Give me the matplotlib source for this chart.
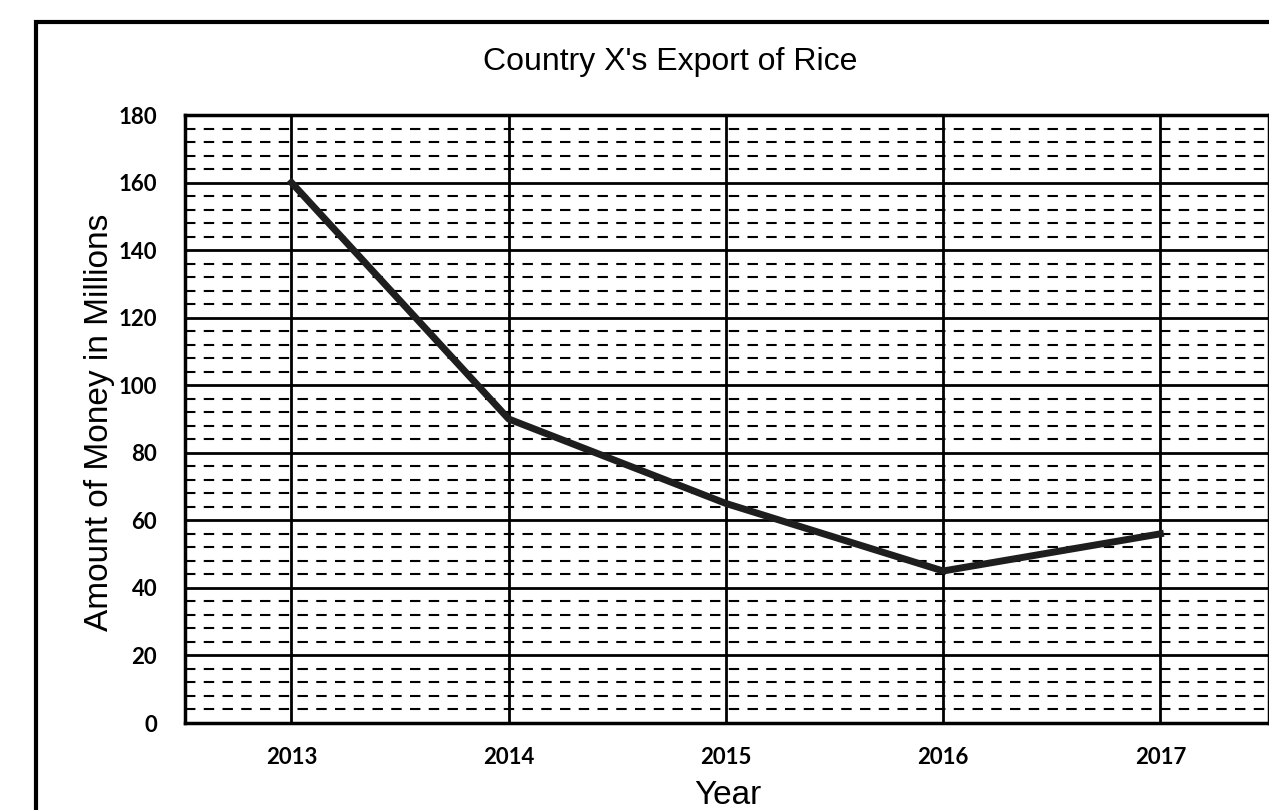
import numpy as np
import pandas as pd
import matplotlib
matplotlib.use('Agg')
import matplotlib.pyplot as plt
from matplotlib.patches import Rectangle

# veriler
yillar = [2013, 2014, 2015, 2016, 2017]
ihracat = [160, 90, 65, 45, 56]   # milyon
y_etiketler = [0, 20, 40, 60, 80, 100, 120, 140, 160, 180]

fig = plt.figure(figsize=(12.69, 8.10), dpi=100)
fig.patch.set_facecolor('white')

# dis cerceve
fig.patches.append(Rectangle((36/1269, -0.05), 1.2, 1 - 22/810 + 0.05,
                             transform=fig.transFigure, fill=False,
                             edgecolor='black', lw=3))

ax = fig.add_axes([185/1269, 1 - 723/810, 1 - 185/1269, (723 - 115)/810])

ax.plot(yillar, ihracat, color='#1e1e1e', lw=5, solid_joinstyle='round', zorder=5)

ax.set_xlim(2012.51, 2017.5)
ax.set_ylim(0, 180)
ax.set_xticks(yillar)
ax.set_yticks(y_etiketler)
ax.set_yticks(np.arange(0, 181, 4), minor=True)

ax.grid(which='major', axis='both', color='black', lw=2)
ax.grid(which='minor', axis='y', color='black', lw=1.5, ls=(0, (5, 4)))
ax.tick_params(which='both', length=0)
ax.tick_params(axis='y', pad=20)
ax.tick_params(axis='x', pad=17)

for s in ax.spines.values():
    s.set_color('black')
    s.set_linewidth(2.5)

for lbl in ax.get_xticklabels() + ax.get_yticklabels():
    lbl.set_fontfamily('Lato')
    lbl.set_fontweight('bold')
    lbl.set_fontsize(16)

fig.text(670/1269, 1 - 62/810, "Country X's Export of Rice", ha='center', va='center',
         fontsize=23, family='Liberation Sans')
fig.text(728/1269, 1 - 796/810, "Year", ha='center', va='center',
         fontsize=24, family='Liberation Sans')
fig.text(100/1269, 1 - 422/810, "Amount of Money in Millions", ha='center', va='center',
         rotation=90, fontsize=24, family='Liberation Sans')

fig.savefig('out.png', dpi=100)
